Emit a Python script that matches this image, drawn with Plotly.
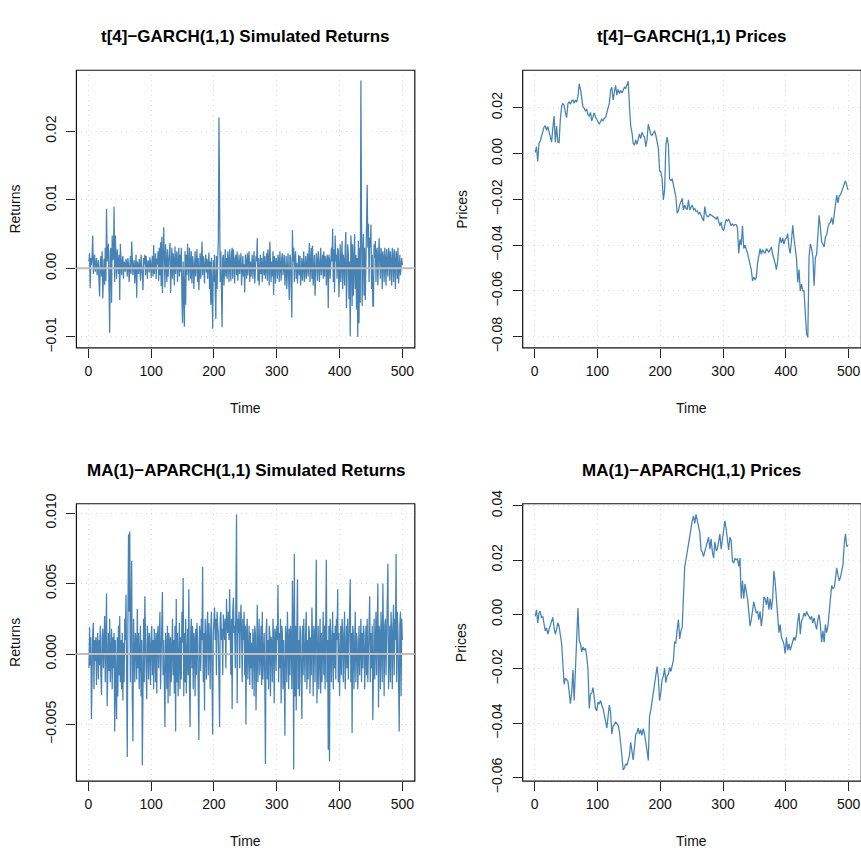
import plotly.graph_objects as go

# ---------------- data ----------------
# t[4]-GARCH(1,1) simulated returns, units of 1e-4, t = 1..500
ret_garch = [
    10, 22, -29, 15, 5, 18, 48, -8, 12, 20, -5, 8, 15, -10, 3, 12, -20, -41, 6, 18,
    -12, 25, -44, 8, 14, -24, 30, -18, 87, 10, 20, 36, -30, -94, 25, 30, -50, 48, 12, 15,
    90, -20, 48, 10, -15, 28, 12, -8, 20, -46, 36, 5, -10, 12, 18, -15, 10, 6, -5, 14,
    8, -12, 15, 6, -20, 10, 18, -8, 39, 15, -10, 5, 12, -22, 8, 20, -43, 10, 2, -8,
    14, 5, -18, 20, 8, -12, -32, 15, 6, 20, -10, 18, 4, -15, 12, 8, -6, 16, 10, -14,
    5, 18, -12, 34, -8, 10, 22, -16, 14, 6, 25, -18, 30, -10, 38, -26, 46, -36, 20, 60,
    15, -28, 35, 12, -20, 28, -12, 8, 25, 37, -36, 12, 30, -15, 22, 10, -25, 32, -8, 18,
    25, -20, 15, 30, -12, 20, -5, 30, -40, -80, 10, -40, -85, 25, -53, 20, -10, 36, 5, -18,
    30, 12, -15, 25, -22, 18, 10, -30, 20, 25, -12, 8, 28, -20, 15, -32, 10, 22, -15, 30,
    39, -10, 18, 5, -22, 12, 20, -6, 14, -15, 8, 23, -30, 10, -53, 15, -40, -88, 12, -20,
    20, -10, -74, 18, -30, 15, 40, 220, 10, -20, 25, -30, -86, 15, 20, -25, 10, 28, -12, 15,
    -15, 25, 10, -20, 28, 12, -18, 22, 30, -15, 28, 8, -22, 15, 20, -10, 25, -18, 12, 20,
    -8, 15, 22, -25, 10, 18, -12, 6, -35, 20, 8, -15, 22, -10, 14, 25, -20, 10, -12, 18,
    20, -15, 8, 25, -22, 12, 18, 10, 44, -18, 15, -25, 10, 20, -8, 15, -20, 12, 25, -10,
    18, -15, 10, 22, -18, 28, 12, -25, 39, 15, -20, 10, -12, 25, -39, 18, 10, -22, 15, 8,
    -15, 20, 12, -20, 25, 10, -18, 15, 22, -10, 8, 20, -25, 12, 18, -30, 10, 22, -15, -46,
    20, 15, -25, -72, 56, 10, 30, -20, 15, 25, -15, 8, -22, 12, 20, -10, 18, -25, 10, 15,
    -18, 12, 25, -20, 8, 18, -15, 10, 22, -12, 15, 37, -20, 18, 30, -15, 33, -25, 10, 20,
    -40, 15, 22, 10, -18, 25, 12, -20, 18, 30, -10, 15, 20, -15, 25, -12, 18, 10, -25, 20,
    15, -58, 20, 12, -15, 25, 30, 10, 58, -20, 28, -35, 48, 10, 20, -15, 30, 25, -42, 18,
    35, -20, 15, 40, -30, 20, 10, -25, 30, 53, -58, 15, 35, 20, -45, 10, -99, 48, 30, -55,
    35, -40, 25, 50, -30, 20, -60, 15, -100, 40, -80, 30, -50, 274, 77, -55, 20, 50, -40, 30,
    -46, 20, 40, 122, 30, 65, -20, 45, 30, 64, -30, 20, -55, -55, 35, 15, 40, -20, 25, 30,
    -25, 20, 44, 10, -15, 30, 20, -30, 25, 15, -20, 30, 10, -25, 28, 15, -12, 30, 20, -18,
    25, 10, -25, 30, 15, -20, 28, 10, -30, 25, 20, -15, 30, -22, 12, 20, -10, 8, 15, 5,
]

# t[4]-GARCH(1,1) prices, units of 1e-3, t = 1, 3, 5, ..., 499
price_garch = [
    0.5, 3.0, -3.4, 4.4, 5.5, 8.0, 9.0, 11.5, 12.2, 10.2,
    11.8, 9.5, 7.2, 5.0, 11.0, 16.4, 5.0, 12.0, 5.0, 4.8,
    15.0, 20.6, 22.0, 21.0, 18.0, 15.7, 21.8, 22.7, 21.5, 23.0,
    23.4, 22.0, 23.4, 22.5, 25.0, 30.5, 28.0, 24.0, 20.5, 19.8,
    18.5, 19.5, 17.0, 16.4, 18.0, 14.3, 16.5, 17.8, 16.0, 15.0,
    14.3, 12.8, 14.0, 15.0, 14.2, 15.5, 15.7, 18.5, 20.0, 22.0,
    27.7, 29.0, 23.4, 27.0, 29.8, 25.5, 28.0, 26.3, 27.5, 26.5,
    28.0, 29.0, 28.5, 30.0, 31.6, 21.0, 12.0, 9.3, 4.4, 3.7,
    6.0, 4.0, 7.0, 8.6, 6.5, 9.3, 8.0, 7.2, 3.0, 6.0,
    12.8, 10.0, 8.5, 7.9, 9.3, 10.0, 8.0, 4.4, 2.3, -7.6,
    -8.0, -11.0, -20.3, -16.0, 3.7, 7.2, 3.7, -11.0, -12.0, -11.0,
    -14.0, -17.0, -19.0, -26.0, -25.0, -22.5, -21.0, -19.6, -24.6, -22.5,
    -24.0, -24.5, -20.3, -24.6, -23.5, -22.5, -24.5, -24.0, -25.3, -25.0,
    -26.5, -25.5, -27.0, -28.0, -29.5, -23.2, -26.5, -27.5, -27.5, -26.5,
    -26.8, -27.2, -27.5, -28.0, -28.8, -27.5, -29.5, -31.6, -30.0, -33.0,
    -33.5, -31.5, -28.8, -29.5, -28.8, -30.0, -31.5, -30.8, -31.5, -31.0,
    -31.0, -32.5, -43.6, -37.5, -40.0, -31.5, -41.5, -40.0, -41.5, -43.5,
    -46.0, -48.0, -50.7, -55.6, -54.0, -55.0, -54.2, -47.9, -43.6, -41.5,
    -44.0, -42.0, -43.0, -43.6, -41.5, -42.5, -43.0, -42.0, -40.8, -44.0,
    -45.7, -48.0, -50.7, -47.0, -40.0, -36.6, -39.0, -37.0, -39.5, -37.5,
    -37.0, -35.0, -41.0, -43.6, -38.0, -31.3, -37.0, -42.5, -45.7, -56.3,
    -50.7, -60.0, -57.0, -60.0, -60.0, -69.7, -78.9, -80.3, -45.0, -39.5,
    -41.5, -45.0, -57.7, -45.5, -44.0, -36.0, -27.0, -32.0, -38.7, -39.5,
    -40.8, -36.5, -35.5, -32.5, -30.5, -30.2, -28.0, -31.0, -26.8, -21.7,
    -18.2, -21.5, -18.5, -18.0, -16.8, -15.0, -13.3, -11.9, -14.0, -15.8,
]

# MA(1)-APARCH(1,1) simulated returns, units of 1e-4, t = 1..500
ret_aparch = [
    -10, 19, -8, 12, -46, 5, 15, 22, -25, 10, -5, 12, -22, 8, 15, -18, 10, -8, 20, -15,
    -29, 12, 18, -10, 20, 27, -20, 15, 43, -37, 10, 15, -12, 25, -20, 10, 18, -25, 12, -10,
    15, -55, 10, -25, -46, 12, -30, 20, -15, 27, -20, 10, -25, 15, -33, 8, -20, 25, 10, 42,
    -15, -73, 20, 85, 30, 87, -20, 40, 66, -30, -62, 25, 10, -20, 15, 8, -18, 32, -10, 15,
    -25, -10, 20, -30, 10, -79, 15, 25, -20, 41, 12, -15, -32, 20, 10, -18, 15, 5, -22, 12,
    20, -15, 10, -25, 18, 8, -20, 15, -28, 12, 20, -10, 15, 30, -25, 10, 18, 44, -15, 10,
    -20, -52, 15, 8, -25, 20, -35, 15, 10, -30, 12, -20, 18, 25, -15, 10, -28, 20, -55, 39,
    -20, 15, -30, 10, 22, -25, 12, -18, 30, 8, 54, -30, 15, -20, 25, -28, 10, 18, -15, 46,
    -20, -52, 15, 25, -10, 20, -25, 15, 10, -30, 18, -15, 22, 10, -28, -61, 20, 15, -12, 25,
    10, 62, -20, 15, -40, 25, 10, -18, 20, 30, -15, 22, 10, -25, 18, 30, -20, -57, 15, 25,
    33, 10, 25, -15, 30, 20, 15, -20, -52, 25, 30, 10, 18, -15, 28, 20, 10, 25, -10, 39,
    20, 15, 30, 10, 46, 20, -15, 25, -39, 30, 40, 15, 20, -10, 30, 99, -35, 25, 15, 30,
    -10, 20, 35, 15, -20, 25, 10, 30, -15, 20, -50, 15, 25, -18, 10, 20, -22, 15, -10, 8,
    -25, 18, 10, -30, 20, 15, -40, 12, 35, -20, 10, 25, -15, 8, 20, -22, 30, -18, 10, 15,
    -20, -78, 15, 25, -18, 10, -25, 20, 15, -30, 12, 8, -20, 25, 10, -35, 18, 15, -12, 20,
    10, 49, -20, 15, -10, 25, -35, 20, 15, -25, 10, -15, -58, 20, 12, -20, 30, 10, -25, 18,
    -15, 20, 10, -25, 52, 15, -82, 71, -30, 20, -40, 15, 53, -25, 10, -30, 20, 15, -20, -46,
    20, -15, 25, 10, -20, 15, 30, -25, 10, -18, 20, 15, -28, 12, -15, 33, 10, -30, 20, 15,
    -20, 25, 67, -35, 15, 20, -25, 10, 25, -28, 15, -20, 10, 30, -15, 20, -25, 15, 67, -20,
    10, -68, 20, -76, 25, 15, -20, 10, 30, -25, 15, -10, 20, -18, 25, 10, 46, -20, 15, -30,
    10, 20, -15, 25, 15, -20, 10, 30, -25, 15, 20, -10, 25, -18, 15, 10, 53, -20, 15, -56,
    20, 15, -25, 10, 30, -20, 15, 10, -25, 18, 20, -15, 10, 25, -20, 15, -10, 20, 15, -25,
    10, 20, -15, 25, -20, 10, 15, 41, -20, 15, -10, 20, -47, 15, 25, -18, 10, 30, -15, 20,
    50, -38, 20, 15, -25, 30, 10, -20, 50, 15, -30, 20, 25, -15, 10, 30, 64, -25, 15, 20,
    -20, 30, 15, -25, 20, 35, -15, 25, 10, 71, -20, 30, 15, -25, -55, 20, 30, -30, 25, 10,
]

# MA(1)-APARCH(1,1) prices, units of 1e-3, t = 1, 3, 5, ..., 499
price_aparch = [
    -0.7, 1.7, -3.1, 0.5, 1.1, -1.3, -0.7, -4.3, -6.1, -5.0,
    -7.3, -5.5, -4.0, -2.5, -1.1, -4.9, -7.3, -5.5, -3.1, -4.3,
    -7.3, -10.8, -18.0, -25.7, -23.5, -24.0, -24.5, -28.5, -32.8, -29.0,
    -20.5, -31.7, -18.0, -8.4, 2.3, -9.6, -10.8, -13.8, -12.0, -13.2,
    -12.5, -15.5, -20.3, -34.6, -29.3, -29.0, -26.9, -30.5, -34.6, -35.5,
    -32.3, -33.0, -31.7, -33.4, -34.6, -37.0, -40.0, -41.8, -37.5, -33.4,
    -36.0, -44.1, -41.0, -40.6, -39.5, -40.0, -40.8, -43.0, -46.5, -52.0,
    -57.2, -56.5, -55.0, -55.5, -53.7, -52.0, -47.1, -51.3, -53.5, -48.9,
    -44.1, -43.5, -41.8, -44.0, -42.4, -44.5, -42.0, -44.0, -46.5, -50.1,
    -53.7, -37.6, -35.2, -32.0, -28.0, -24.5, -22.7, -19.2, -23.3, -31.7,
    -28.7, -24.0, -22.7, -19.8, -25.1, -22.5, -22.1, -19.5, -21.0, -18.0,
    -16.8, -10.2, -10.5, -5.5, -1.9, -9.0, -6.0, -4.9, 6.4, 17.7,
    20.1, 23.1, 26.0, 29.6, 32.0, 34.4, 36.2, 33.5, 36.8, 34.5,
    32.5, 30.2, 23.7, 23.0, 21.3, 23.0, 24.9, 26.0, 28.4, 24.0,
    27.8, 23.0, 20.7, 26.7, 23.5, 24.0, 26.5, 29.6, 24.0, 27.3,
    30.8, 34.4, 31.5, 27.3, 23.7, 28.4, 27.2, 19.5, 18.9, 20.5,
    20.1, 20.5, 17.7, 20.7, 5.8, 12.4, 5.8, 11.2, 8.3, 5.8,
    1.1, -4.3, -1.9, 2.3, 4.6, 2.5, 0.5, 1.1, -1.9, 1.1,
    -4.3, -0.5, 6.4, 5.8, 3.5, 6.4, 1.7, 5.8, 1.7, 5.8,
    16.0, 12.0, 4.6, -1.9, -6.7, -3.7, -8.4, -9.6, -11.0, -14.4,
    -8.4, -13.2, -10.8, -13.2, -11.4, -10.5, -8.4, -9.6, -7.3, -2.5,
    0.5, -7.3, -2.5, -1.3, 0.5, -0.7, 1.1, -0.1, -0.7, -1.9,
    -0.7, -3.1, -1.3, -3.7, -5.5, -1.9, -0.1, -3.7, -10.2, -6.0,
    -10.2, -3.7, -6.7, -4.3, 0.5, 7.0, 10.6, 9.5, 10.0, 13.0,
    17.1, 14.5, 12.4, 13.6, 15.5, 18.3, 26.0, 29.6, 24.9, 25.5,
]

titles = ["t[4]\u2212GARCH(1,1) Simulated Returns", "t[4]\u2212GARCH(1,1) Prices",
          "MA(1)\u2212APARCH(1,1) Simulated Returns", "MA(1)\u2212APARCH(1,1) Prices"]
ylabels = ["Returns", "Prices", "Returns", "Prices"]
xlabel = "Time"
x_ticks = [0, 100, 200, 300, 400, 500]
y_ticks = [[-0.01, 0.0, 0.01, 0.02],
           [-0.08, -0.06, -0.04, -0.02, 0.0, 0.02],
           [-0.005, 0.0, 0.005, 0.010],
           [-0.06, -0.04, -0.02, 0.0, 0.02, 0.04]]
y_fmt = [".2f", ".2f", ".3f", ".2f"]

# ---------------- layout geometry ----------------
W, H = 861, 860
FONT = "Liberation Sans, Arial, Helvetica, sans-serif"
LINE = "#4682B4"

# panel boxes in pixels: (left, right, top, bottom)
boxes = [(76.5, 415.3, 58.0, 344.3), (523.3, 862.3, 58.0, 344.3),
         (76.5, 415.3, 505.0, 791.0), (523.3, 862.3, 505.0, 791.0)]
yranges = [[-0.01160, 0.02890], [-0.08490, 0.03640],
           [-0.009015, 0.010668], [-0.06132, 0.04071]]
px_per_t = 0.6288
x_lo = -18.96

t_ret = list(range(1, len(ret_garch) + 1))
t_pr1 = list(range(1, 2 * len(price_garch), 2))
t_ret2 = list(range(1, len(ret_aparch) + 1))
t_pr2 = list(range(1, 2 * len(price_aparch), 2))

series = [
    (t_ret, [v * 1e-4 for v in ret_garch]),
    (t_pr1, [v * 1e-3 for v in price_garch]),
    (t_ret2, [v * 1e-4 for v in ret_aparch]),
    (t_pr2, [v * 1e-3 for v in price_aparch]),
]

fig = go.Figure()
shapes = []
annotations = []
layout_axes = {}

for i in range(4):
    l, r, t, b = boxes[i]
    rr = min(r, W)
    xdom = [l / W, rr / W]
    ydom = [1 - b / H, 1 - t / H]
    sfx = "" if i == 0 else str(i + 1)
    x_hi = x_lo + (rr - l) / px_per_t
    xs, ys = series[i]
    fig.add_trace(go.Scatter(x=xs, y=ys, mode="lines",
                             line=dict(color=LINE, width=1.25),
                             xaxis="x" + sfx, yaxis="y" + sfx,
                             showlegend=False, hoverinfo="skip"))
    common = dict(showgrid=True, gridcolor="#DCDCDC", griddash="1px,4px", gridwidth=1,
                  zeroline=False, showline=False, ticks="outside", ticklen=9,
                  tickwidth=1, tickcolor="#222222", ticklabeloverflow="allow",
                  tickfont=dict(family=FONT, size=14, color="#111111"))
    layout_axes["xaxis" + sfx] = dict(domain=xdom, range=[x_lo, x_hi], anchor="y" + sfx,
                                      tickvals=x_ticks, ticklabelstandoff=1, **common)
    layout_axes["yaxis" + sfx] = dict(domain=ydom, range=yranges[i], anchor="x" + sfx,
                                      tickvals=y_ticks[i], tickformat=y_fmt[i],
                                      tickangle=-90, ticklabelstandoff=5, **common)
    # box
    shapes.append(dict(type="rect", xref="paper", yref="paper",
                       x0=l / W, x1=r / W, y0=1 - b / H, y1=1 - t / H,
                       line=dict(color="#111111", width=1.2), layer="above"))
    # horizontal reference line at zero for returns panels
    if i in (0, 2):
        shapes.append(dict(type="line", xref="x" + sfx + " domain", yref="y" + sfx,
                           x0=0, x1=1, y0=0, y1=0,
                           line=dict(color="#BEBEBE", width=2), layer="above"))
    cx = (l + r) / 2
    annotations.append(dict(text="<b>" + titles[i] + "</b>", xref="paper", yref="paper",
                            x=cx / W, y=1 - (t - 34.7) / H, xanchor="center",
                            yanchor="middle", showarrow=False,
                            font=dict(family=FONT, size=17, color="#000000")))
    annotations.append(dict(text=xlabel, xref="paper", yref="paper",
                            x=cx / W, y=1 - (b + 61.7) / H, xanchor="center",
                            yanchor="middle", showarrow=False,
                            font=dict(family=FONT, size=14, color="#111111")))
    annotations.append(dict(text=ylabels[i], xref="paper", yref="paper",
                            x=(l - 61.0) / W, y=1 - (t + b) / 2 / H, xanchor="center",
                            yanchor="middle", showarrow=False, textangle=-90,
                            font=dict(family=FONT, size=14, color="#111111")))

fig.update_layout(width=W, height=H, margin=dict(l=0, r=0, t=0, b=0),
                  paper_bgcolor="white", plot_bgcolor="white",
                  shapes=shapes, annotations=annotations, **layout_axes)

fig.write_html("out.html")
